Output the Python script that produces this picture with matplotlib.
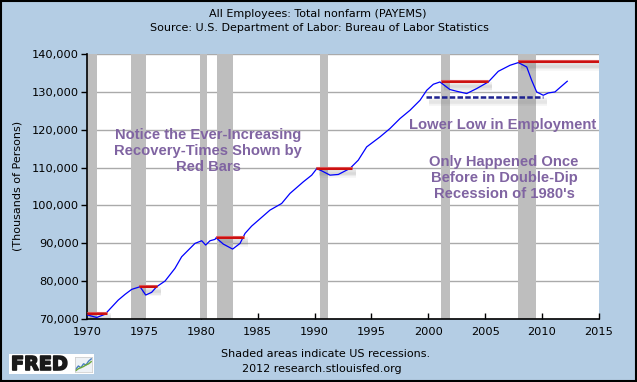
import matplotlib
matplotlib.use("Agg")
import matplotlib.pyplot as plt
from matplotlib.patches import Rectangle
from matplotlib.ticker import FuncFormatter
import matplotlib.patheffects as pe

# ---- data ----
years = [1970.0, 1970.85, 1971.58, 1972.75, 1973.34, 1973.93, 1974.66, 1975.16, 1975.68,
         1976.12, 1976.86, 1977.73, 1978.32, 1979.49, 1980.08, 1980.43, 1980.81, 1981.25,
         1981.34, 1981.98, 1982.8, 1983.45, 1983.89, 1984.47, 1986.08, 1987.11, 1987.84,
         1989.01, 1989.75, 1990.19, 1990.63, 1991.36, 1992.09, 1993.11, 1993.84, 1994.58,
         1995.75, 1996.63, 1997.51, 1998.39, 1999.27, 1999.86, 2000.44, 2001.02, 2001.9,
         2002.49, 2003.37, 2004.25, 2005.27, 2006.15, 2007.18, 2007.91, 2008.65, 2009.08,
         2009.52, 2010.1, 2010.54, 2011.13, 2011.57, 2012.21]
payems = [71100, 70400, 71240, 75010, 76500, 77830, 78520, 76330, 77040,
          78520, 80030, 83370, 86440, 89970, 90670, 89530, 90670, 91030,
          91450, 89790, 88470, 89970, 92610, 94540, 98760, 100520, 103170,
          106230, 108000, 109700, 109130, 108000, 108180, 109760, 111950, 115460,
          118100, 120320, 122950, 125140, 127780, 130420, 132010, 132610, 130610,
          130160, 129550, 130870, 132610, 135430, 137020, 137730, 136570, 133060,
          129980, 129100, 129710, 129980, 131140, 132800]

recessions = [(1969.92, 1970.88), (1973.83, 1975.19), (1979.95, 1980.55),
              (1981.45, 1982.85), (1990.5, 1991.18), (2001.12, 2001.9), (2007.92, 2009.5)]

red_bars = [(1970.0, 1971.76, 71650), (1974.57, 1976.15, 78650), (1981.34, 1983.8, 91650),
            (1990.13, 1993.29, 109850), (2001.11, 2005.24, 132800), (2007.88, 2015.3, 138100)]
low_line = (1999.79, 2010.08, 128560)

xticks = [1970, 1975, 1980, 1985, 1990, 1995, 2000, 2005, 2010, 2015]
yticks = [70000, 80000, 90000, 100000, 110000, 120000, 130000, 140000]

title1 = "All Employees: Total nonfarm (PAYEMS)"
title2 = "Source: U.S. Department of Labor: Bureau of Labor Statistics"
note1 = "Notice the Ever-Increasing\nRecovery-Times Shown by\nRed Bars"
note2 = "Lower Low in Employment"
note3 = "Only Happened Once\nBefore in Double-Dip\nRecession of 1980's"
foot1 = "Shaded areas indicate US recessions."
foot2 = "2012 research.stlouisfed.org"

# ---- styling ----
BG = "#B4CDE4"
PURPLE = "#8064A2"

fig = plt.figure(figsize=(6.37, 3.82), dpi=100, facecolor=BG)
W, H = 637, 382

def fx(px):
    return px / W

def fy(py):
    return 1 - py / H

ax = fig.add_axes([fx(87), fy(319), fx(599) - fx(87), fy(54) - fy(319)])
ax.set_facecolor("white")
ax.set_xlim(1970, 2015)
ax.set_ylim(70000, 140000)

for a, b in recessions:
    ax.axvspan(max(a, 1970), b, color="#BEBEBE", lw=0, zorder=1)

ax.set_yticks(yticks)
ax.yaxis.grid(True, color="#AAAAAA", lw=1, zorder=0.5)
ax.set_axisbelow(True)
ax.set_xticks(xticks)
ax.yaxis.set_major_formatter(FuncFormatter(lambda v, p: f"{int(v):,}"))
ax.tick_params(axis="y", direction="out", length=4, width=1, labelsize=8.2, pad=2, colors="black")
ax.tick_params(axis="x", direction="in", length=4, width=1, labelsize=8.2, pad=6, colors="black")
for s in ["top", "right"]:
    ax.spines[s].set_visible(False)
for s in ["left", "bottom"]:
    ax.spines[s].set_color("black")
    ax.spines[s].set_linewidth(1.2)

ax.plot(years, payems, color="#0000FF", lw=0.9, zorder=3)

# red bars with soft shadow
for x0, x1, v in red_bars:
    for dy, al in [(900, 0.10), (1400, 0.10), (1900, 0.07)]:
        ax.plot([x0 + 0.25, x1 + 0.35], [v - dy, v - dy], color="#707070", lw=4,
                alpha=al, solid_capstyle="butt", zorder=2.5, clip_on=True)
    ax.plot([x0, x1], [v, v], color="#CC1010", lw=2.2, solid_capstyle="butt", zorder=4,
            clip_on=True)
    ax.plot([x0, x1], [v + 250, v + 250], color="#E06060", lw=0.6, solid_capstyle="butt",
            zorder=4.1, clip_on=True)

x0, x1, v = low_line
for dy, al in [(900, 0.10), (1500, 0.08)]:
    ax.plot([x0 + 0.25, x1 + 0.35], [v - dy, v - dy], color="#707070", lw=4, alpha=al,
            solid_capstyle="butt", zorder=2.5)
ax.plot([x0, x1], [v, v], color="#1F2390", lw=1.8, linestyle=(0, (2.2, 0.9)), zorder=4)

tkw = dict(color=PURPLE, fontsize=10.6, fontweight="bold", family="Liberation Sans",
           ha="center", va="center", linespacing=1.15, zorder=5)
ax.text(1980.63, 114400, note1, **tkw)
ax.text(2006.56, 121270, note2, **tkw)
ax.text(2006.65, 107280, note3, **tkw)

fs = 8.0
fig.text(fx(318), fy(14), title1, ha="center", va="center", fontsize=fs, color="black")
fig.text(fx(319), fy(28), title2, ha="center", va="center", fontsize=fs, color="black")
fig.text(fx(18), fy(186), "(Thousands of Persons)", rotation=90, ha="center", va="center",
         fontsize=fs, color="black")
fig.text(fx(326), fy(354), foot1, ha="center", va="center", fontsize=fs, color="black")
fig.text(fx(322), fy(369), foot2, ha="center", va="center", fontsize=fs, color="black")

# FRED logo
fig.patches.append(Rectangle((fx(9), fy(374)), fx(94) - fx(9), fy(354) - fy(374),
                             transform=fig.transFigure, facecolor="white", edgecolor="none"))
fig.text(fx(11), fy(364.5), "FRED", ha="left", va="center", fontsize=13.8, fontweight="bold",
         family="DejaVu Sans", color="#1A1A1A",
         path_effects=[pe.withStroke(linewidth=1.2, foreground="#1A1A1A")])
icon = fig.add_axes([fx(75), fy(372), fx(92) - fx(75), fy(357) - fy(372)], zorder=5)
icon.set_facecolor("#EEF2F6")
icon_x = [0, 1, 2, 3, 4, 5, 6]
icon_a = [1.0, 2.2, 1.6, 3.0, 2.6, 4.0, 4.8]
icon_b = [0.5, 1.2, 1.6, 2.0, 2.6, 3.0, 3.8]
icon.plot(icon_x, icon_a, color="#4A7FC0", lw=1.0)
icon.plot(icon_x, icon_b, color="#6DA83A", lw=1.0)
icon.set_xlim(-0.3, 6.3)
icon.set_ylim(0, 5.5)
icon.set_xticks([])
icon.set_yticks([])
for s in icon.spines.values():
    s.set_color("#C8C8C8")
    s.set_linewidth(0.5)

# outer frame
fig.patches.append(Rectangle((0.0015, 0.0025), 0.997, 0.995, transform=fig.transFigure,
                             facecolor="none", edgecolor="black", lw=1.5))

fig.savefig("out.png", dpi=100, facecolor=BG)
